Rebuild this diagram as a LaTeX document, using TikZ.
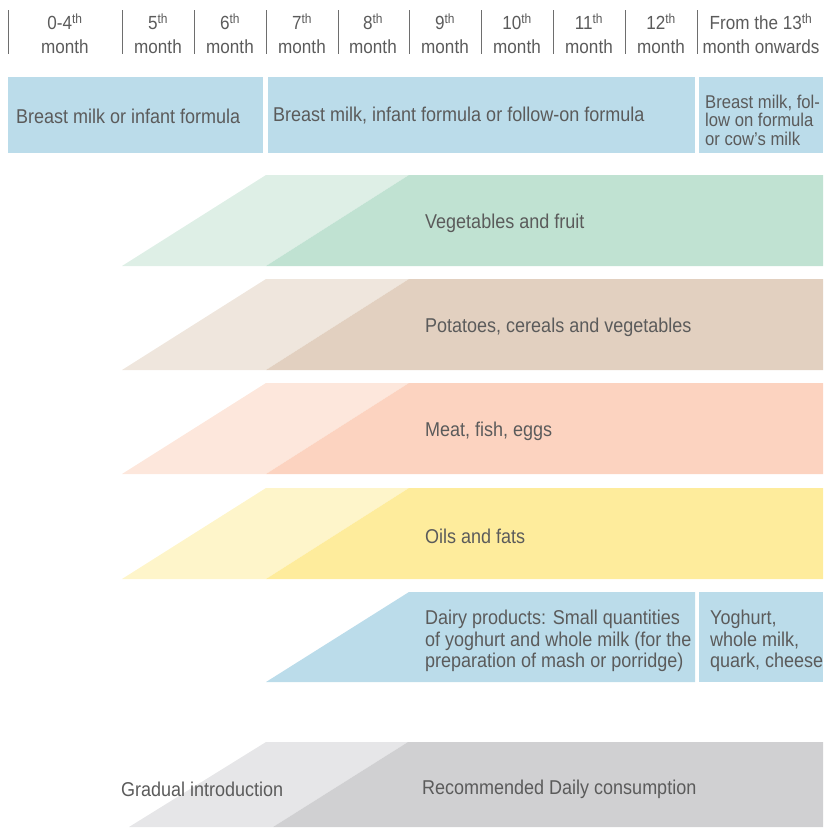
\documentclass[tikz,border=0pt]{standalone}
\usepackage{fontspec}
\setmainfont{Liberation Sans}[FakeStretch=0.9]

\definecolor{txtgray}{HTML}{5B5B5B}
\definecolor{rulegray}{HTML}{6E6E6E}
\definecolor{milkblue}{HTML}{BBDCEA}
\definecolor{vegdark}{HTML}{C0E2D2}
\definecolor{veglight}{HTML}{DEEFE6}
\definecolor{potdark}{HTML}{E2D0C0}
\definecolor{potlight}{HTML}{EFE6DD}
\definecolor{meatdark}{HTML}{FCD3C0}
\definecolor{meatlight}{HTML}{FDE7DC}
\definecolor{oildark}{HTML}{FEEC9C}
\definecolor{oillight}{HTML}{FEF5CA}
\definecolor{keydark}{HTML}{D0D0D2}
\definecolor{keylight}{HTML}{E6E6E8}

\tikzset{
  monthtext/.style={font=\fontsize{19}{24}\selectfont, text=txtgray, inner sep=0pt, align=center},
  bandtext/.style={font=\fontsize{20}{21.5}\selectfont, text=txtgray, inner sep=0pt, anchor=west, align=left},
  smalltext/.style={bandtext, font=\fontsize{18.5}{18.5}\selectfont}
}

\begin{document}
\begin{tikzpicture}[x=1pt, y=-1pt]
  \useasboundingbox (0,0) rectangle (823,828);

  \foreach \x in {8,122,194,266,338,409,481,553,625,697}
    \draw[rulegray, line width=1pt] (\x,10) -- (\x,54);

  \node[monthtext] (m4) at (65,34) {0-4\textsuperscript{th}\\month};
  \node[monthtext] (m5) at (158,34) {5\textsuperscript{th}\\month};
  \node[monthtext] (m6) at (230,34) {6\textsuperscript{th}\\month};
  \node[monthtext] (m7) at (302,34) {7\textsuperscript{th}\\month};
  \node[monthtext] (m8) at (373,34) {8\textsuperscript{th}\\month};
  \node[monthtext] (m9) at (445,34) {9\textsuperscript{th}\\month};
  \node[monthtext] (m10) at (517,34) {10\textsuperscript{th}\\month};
  \node[monthtext] (m11) at (589,34) {11\textsuperscript{th}\\month};
  \node[monthtext] (m12) at (661,34) {12\textsuperscript{th}\\month};
  \node[monthtext] (m13) at (761,34) {From the 13\textsuperscript{th}\\month onwards};

  \fill[milkblue] (8,77) rectangle (263,153);
  \fill[milkblue] (268,77) rectangle (695,153);
  \fill[milkblue] (699,77) rectangle (823,153);
  \node[bandtext] (milk1) at (16,116) {Breast milk or infant formula};
  \node[bandtext] (milk2) at (273,116) {Breast milk, infant formula or follow-on formula};
  \node[smalltext] (milk3) at (705,120) {Breast milk, fol-\\low on formula\\or cow’s milk};

  \foreach \y/\dk/\lt/\txt [count=\i] in {175/vegdark/veglight/{Vegetables and fruit},
      279/potdark/potlight/{Potatoes, cereals and vegetables},
      383/meatdark/meatlight/{Meat, fish, eggs},
      488/oildark/oillight/{Oils and fats}} {
    \fill[\lt] (122,\y+91) -- (266,\y) -- (409,\y) -- (266,\y+91) -- cycle;
    \fill[\dk] (266,\y+91) -- (409,\y) -- (823,\y) -- (823,\y+91) -- cycle;
    \node[bandtext] (food\i) at (425,\y+48) {\txt};
  }

  \fill[milkblue] (266,682) -- (409,592) -- (695,592) -- (695,682) -- cycle;
  \fill[milkblue] (699,592) rectangle (823,682);
  \node[bandtext] (dairy1) at (425,641) {Dairy products: Small quantities\\of yoghurt and whole milk (for the\\preparation of mash or porridge)};
  \node[bandtext] (dairy2) at (710,641) {Yoghurt,\\whole milk,\\quark, cheese};

  \fill[keylight] (129,827) -- (266,742) -- (408,742) -- (273,827) -- cycle;
  \fill[keydark] (273,827) -- (408,742) -- (823,742) -- (823,827) -- cycle;
  \node[bandtext] (gradual) at (121,789) {Gradual introduction};
  \node[bandtext] (daily) at (422,789) {Recommended Daily consumption};
\end{tikzpicture}
\end{document}
